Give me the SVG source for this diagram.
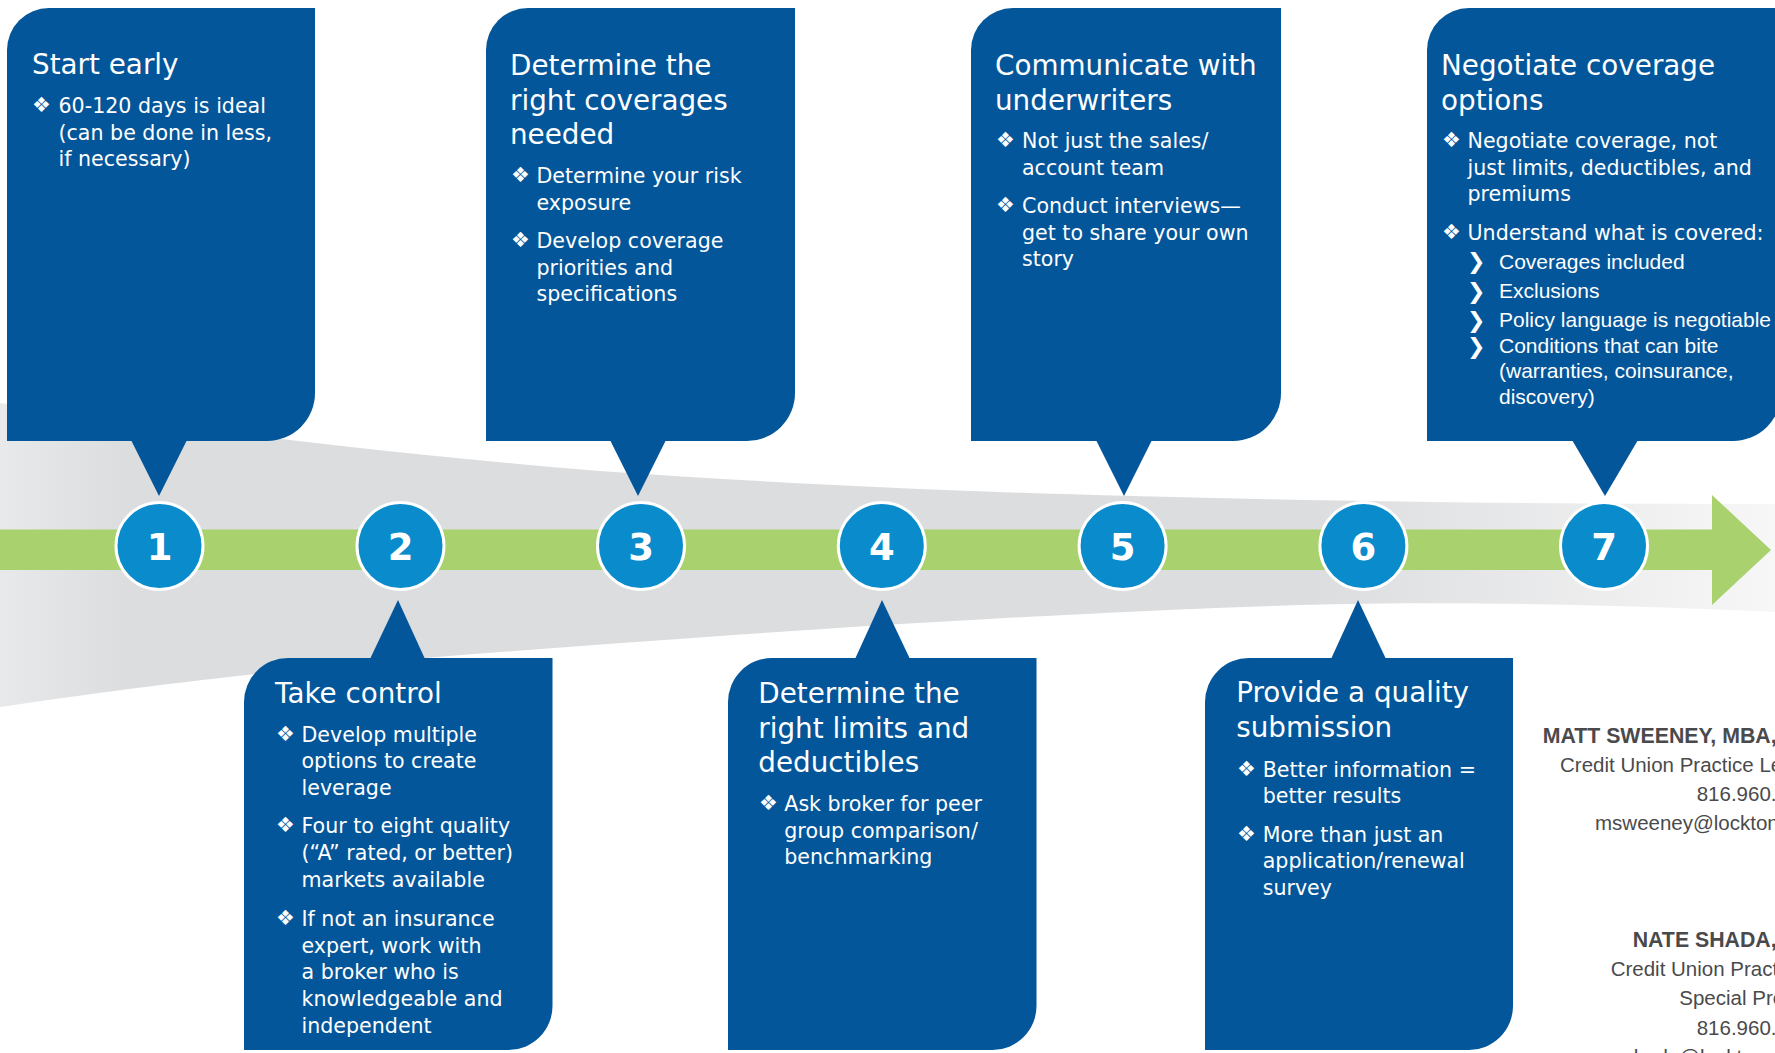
<svg xmlns="http://www.w3.org/2000/svg" width="1775" height="1053" viewBox="0 0 1775 1053">
<defs>
<linearGradient id="band" gradientUnits="userSpaceOnUse" x1="0" y1="0" x2="1775" y2="0">
<stop offset="0" stop-color="#e8e9ea"/>
<stop offset="0.07" stop-color="#dcdddf"/>
<stop offset="0.74" stop-color="#dcdddf"/>
<stop offset="1" stop-color="#f7f7f7"/>
</linearGradient>
<style>
.box{fill:#03569a}
.circ{fill:#0a8bcc;stroke:#ffffff;stroke-width:3}
.num{font-family:"DejaVu Sans",Verdana,sans-serif;font-weight:bold;font-size:37px;fill:#ffffff;text-anchor:middle}
.t{font-family:"DejaVu Sans",Verdana,sans-serif;font-size:27.8px;fill:#ffffff}
.b{font-family:"DejaVu Sans",Verdana,sans-serif;font-size:20.6px;fill:#ffffff}
.bul{font-family:"DejaVu Sans",sans-serif;font-size:21px;fill:#ffffff}
.sub{font-family:"Liberation Sans",Arial,sans-serif;font-size:21px;fill:#ffffff}
.chev{font-family:"DejaVu Sans",sans-serif;font-size:22px;fill:#ffffff;font-weight:bold}
.cn{font-family:"Liberation Sans",Arial,sans-serif;font-size:21.3px;font-weight:bold;fill:#4a4a4c}
.cr{font-family:"Liberation Sans",Arial,sans-serif;font-size:20.5px;fill:#4a4a4c}
</style>
</defs>
<rect width="1775" height="1053" fill="#ffffff"/>
<g id="background">
<path fill="url(#band)" d="M0,403 C200,430 400,455 600,471 C800,485 1000,494 1257,499 C1450,503 1600,504 1775,504 L1775,612 C1600,604 1450,601 1300,605 C1100,611 800,628 425,658 C250,672 100,692 0,707 Z"/>
</g>
<g id="connectors">
<path fill="#a9d26f" d="M0,529.5 H1712 V495 L1771,550 L1712,605 V570 H0 Z"/>
</g>
<g id="step1"><circle class="circ" cx="159.5" cy="546" r="43.5"/><text class="num" x="159.5" y="560">1</text></g>
<g id="step2"><circle class="circ" cx="400.5" cy="546" r="43.5"/><text class="num" x="400.5" y="560">2</text></g>
<g id="step3"><circle class="circ" cx="641" cy="546" r="43.5"/><text class="num" x="641" y="560">3</text></g>
<g id="step4"><circle class="circ" cx="881.8" cy="546" r="43.5"/><text class="num" x="881.8" y="560">4</text></g>
<g id="step5"><circle class="circ" cx="1122.6" cy="546" r="43.5"/><text class="num" x="1122.6" y="560">5</text></g>
<g id="step6"><circle class="circ" cx="1363.4" cy="546" r="43.5"/><text class="num" x="1363.4" y="560">6</text></g>
<g id="step7"><circle class="circ" cx="1604" cy="546" r="43.5"/><text class="num" x="1604" y="560">7</text></g>

<g id="card1">
<path class="box" d="M7,441 V50 A42,42 0 0 1 49,8 H315 V393 A48,48 0 0 1 267,441 Z"/>
<polygon class="box" points="131,440 187,440 159,496"/>
<text class="t" x="32" y="74">Start early</text>
<text class="bul" x="32" y="112">❖</text>
<text class="b"><tspan x="58.5" y="113">60-120 days is ideal</tspan><tspan x="58.5" y="139.7">(can be done in less,</tspan><tspan x="58.5" y="166.4">if necessary)</tspan></text>
</g>

<g id="card3">
<path class="box" d="M486,441 V50 A42,42 0 0 1 528,8 H795 V393 A48,48 0 0 1 747,441 Z"/>
<polygon class="box" points="610,440 666,440 638,496"/>
<text class="t"><tspan x="510" y="75">Determine the</tspan><tspan x="510" y="109.5">right coverages</tspan><tspan x="510" y="144">needed</tspan></text>
<text class="bul" x="511" y="182">❖</text>
<text class="bul" x="511" y="247">❖</text>
<text class="b"><tspan x="536.5" y="183">Determine your risk</tspan><tspan x="536.5" y="209.7">exposure</tspan><tspan x="536.5" y="248">Develop coverage</tspan><tspan x="536.5" y="274.7">priorities and</tspan><tspan x="536.5" y="301.4">specifications</tspan></text>
</g>

<g id="card5">
<path class="box" d="M971,441 V50 A42,42 0 0 1 1013,8 H1281 V393 A48,48 0 0 1 1233,441 Z"/>
<polygon class="box" points="1096,440 1152,440 1124,496"/>
<text class="t"><tspan x="995" y="75">Communicate with</tspan><tspan x="995" y="109.5">underwriters</tspan></text>
<text class="bul" x="996" y="147">❖</text>
<text class="bul" x="996" y="212">❖</text>
<text class="b"><tspan x="1022" y="148">Not just the sales/</tspan><tspan x="1022" y="174.7">account team</tspan><tspan x="1022" y="213">Conduct interviews—</tspan><tspan x="1022" y="239.7">get to share your own</tspan><tspan x="1022" y="266.4">story</tspan></text>
</g>

<g id="card7">
<path class="box" d="M1427,441 V50 A42,42 0 0 1 1469,8 H1781 V393 A48,48 0 0 1 1733,441 Z"/>
<polygon class="box" points="1572,440 1638,440 1605,496"/>
<text class="t"><tspan x="1441" y="75">Negotiate coverage</tspan><tspan x="1441" y="109.5">options</tspan></text>
<text class="bul" x="1442" y="147">❖</text>
<text class="bul" x="1442" y="238.5">❖</text>
<text class="b"><tspan x="1467.5" y="148">Negotiate coverage, not</tspan><tspan x="1467.5" y="174.7">just limits, deductibles, and</tspan><tspan x="1467.5" y="201.4">premiums</tspan><tspan x="1467.5" y="239.5">Understand what is covered:</tspan></text>
<text class="chev" x="1467" y="269">❯</text>
<text class="chev" x="1467" y="298.5">❯</text>
<text class="chev" x="1467" y="327.5">❯</text>
<text class="chev" x="1467" y="353.5">❯</text>
<text class="sub"><tspan x="1499" y="268.5">Coverages included</tspan><tspan x="1499" y="298">Exclusions</tspan><tspan x="1499" y="327">Policy language is negotiable</tspan><tspan x="1499" y="353.4">Conditions that can bite</tspan><tspan x="1499" y="378.3">(warranties, coinsurance,</tspan><tspan x="1499" y="404.3">discovery)</tspan></text>
</g>

<g id="card2">
<path class="box" d="M244,1050 V702 A44,44 0 0 1 288,658 H552.5 V1006 A44,44 0 0 1 508.5,1050 Z"/>
<polygon class="box" points="370,659 425,659 398,600"/>
<text class="t" x="275" y="703">Take control</text>
<text class="bul" x="276" y="740.7">❖</text>
<text class="bul" x="276" y="832.3">❖</text>
<text class="bul" x="276" y="925">❖</text>
<text class="b"><tspan x="301.5" y="741.7">Develop multiple</tspan><tspan x="301.5" y="768.3">options to create</tspan><tspan x="301.5" y="795">leverage</tspan><tspan x="301.5" y="833.3">Four to eight quality</tspan><tspan x="301.5" y="860">(“A” rated, or better)</tspan><tspan x="301.5" y="886.7">markets available</tspan><tspan x="301.5" y="926">If not an insurance</tspan><tspan x="301.5" y="952.7">expert, work with</tspan><tspan x="301.5" y="979.3">a broker who is</tspan><tspan x="301.5" y="1006">knowledgeable and</tspan><tspan x="301.5" y="1032.7">independent</tspan></text>
</g>

<g id="card4">
<path class="box" d="M728,1050 V702 A44,44 0 0 1 772,658 H1036.5 V1006 A44,44 0 0 1 992.5,1050 Z"/>
<polygon class="box" points="855,659 910,659 882,600"/>
<text class="t"><tspan x="758.3" y="703.3">Determine the</tspan><tspan x="758.3" y="737.7">right limits and</tspan><tspan x="758.3" y="771.7">deductibles</tspan></text>
<text class="bul" x="759" y="810">❖</text>
<text class="b"><tspan x="784.3" y="811">Ask broker for peer</tspan><tspan x="784.3" y="837.7">group comparison/</tspan><tspan x="784.3" y="864.4">benchmarking</tspan></text>
</g>

<g id="card6">
<path class="box" d="M1205,1050 V702 A44,44 0 0 1 1249,658 H1513 V1006 A44,44 0 0 1 1469,1050 Z"/>
<polygon class="box" points="1331,659 1386,659 1358,600"/>
<text class="t"><tspan x="1236.2" y="702">Provide a quality</tspan><tspan x="1236.2" y="736.7">submission</tspan></text>
<text class="bul" x="1237" y="775.7">❖</text>
<text class="bul" x="1237" y="840.7">❖</text>
<text class="b"><tspan x="1262.7" y="776.7">Better information =</tspan><tspan x="1262.7" y="803.4">better results</tspan><tspan x="1262.7" y="841.7">More than just an</tspan><tspan x="1262.7" y="868.4">application/renewal</tspan><tspan x="1262.7" y="895.1">survey</tspan></text>
</g>

<g id="contacts">
<text class="cn" x="1542.7" y="743.3">MATT SWEENEY, MBA,</text>
<text class="cr" x="1560" y="771.7">Credit Union Practice Le</text>
<text class="cr" x="1696.7" y="801">816.960.</text>
<text class="cr" x="1595" y="830">msweeney@lockton</text>
<text class="cn" x="1632.7" y="946.7">NATE SHADA,</text>
<text class="cr" x="1610.7" y="976">Credit Union Pract</text>
<text class="cr" x="1679.3" y="1005">Special Pro</text>
<text class="cr" x="1696.7" y="1035">816.960.</text>
<text class="cr" x="1612" y="1064">nshada@lockton</text>
</g>
</svg>
